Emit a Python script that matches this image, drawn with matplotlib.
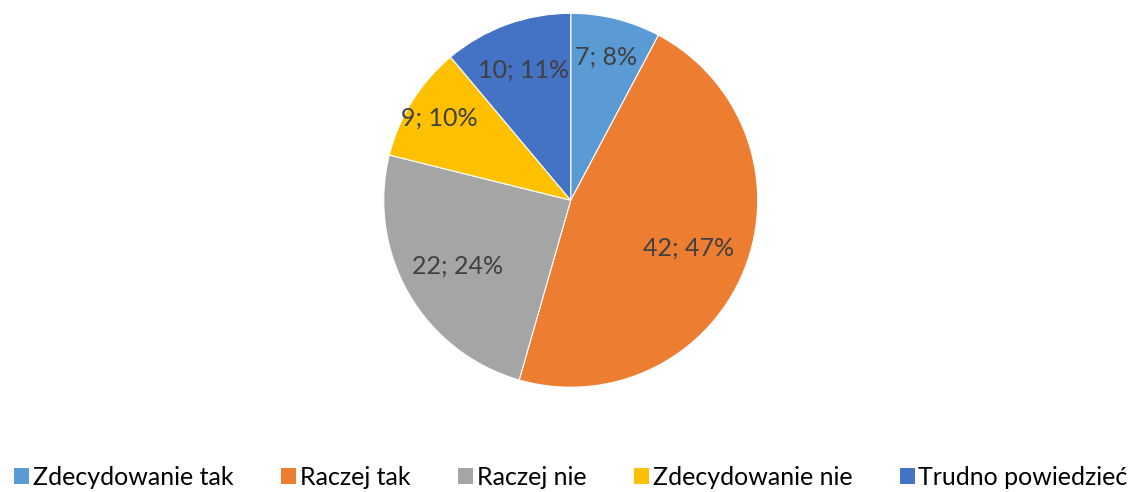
import numpy as np
import matplotlib.pyplot as plt
from matplotlib.patches import Patch

labels = ['Zdecydowanie tak', 'Raczej tak', 'Raczej nie', 'Zdecydowanie nie', 'Trudno powiedzieć']
values = [7, 42, 22, 9, 10]
colors = ['#5B9BD5', '#ED7D31', '#A5A5A5', '#FFC000', '#4472C4']
label_dist = [0.79, 0.68, 0.70, 0.83, 0.74]  # how far out each label sits

plt.rcParams['font.family'] = ['Lato', 'DejaVu Sans']

total = sum(values)


def fmt(pct):
    n = int(round(pct * total / 100))
    return f'{n}; {round(pct):.0f}%'


fig = plt.figure(figsize=(11.42, 4.92), dpi=100)
ax = fig.add_axes([0.336, 0.213, 0.3275, 0.760])
wedges, _, autotexts = ax.pie(values, colors=colors, startangle=90, counterclock=False,
                              autopct=fmt, pctdistance=0.74,
                              wedgeprops=dict(edgecolor='white', linewidth=0.8),
                              textprops=dict(color='#404040', fontsize=18))
for w, t, d in zip(wedges, autotexts, label_dist):
    ang = np.deg2rad((w.theta1 + w.theta2) / 2)
    t.set_position((d * np.cos(ang), d * np.sin(ang)))
ax.set_xlim(-1, 1)
ax.set_ylim(-1, 1)
ax.set_aspect('equal')

handles = [Patch(facecolor=c, label=l) for c, l in zip(colors, labels)]
fig.legend(handles=handles, loc='center', bbox_to_anchor=(0.5, 0.03), ncol=5,
           frameon=False, fontsize=18, handlelength=0.6, handleheight=0.6,
           handletextpad=0.15, columnspacing=1.9)

fig.savefig('out.png', dpi=100)
